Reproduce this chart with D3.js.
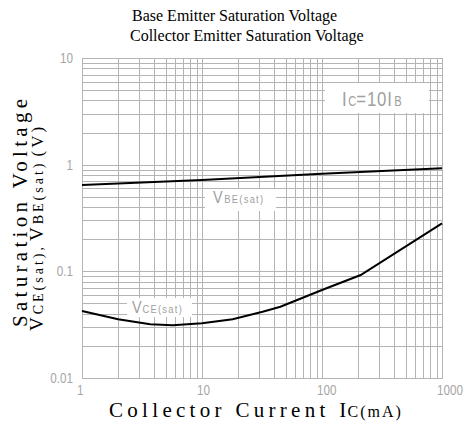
<!DOCTYPE html>
<html>
<head>
<meta charset="utf-8">
<script src="https://cdn.jsdelivr.net/npm/d3@7"></script>
<style>
  body { margin: 0; background: #fff; }
  .grid line { stroke: #b4b4b4; stroke-width: 1; }
  .grid path { display: none; }
  .tick-label { font-family: "Liberation Sans", Arial, sans-serif; fill: #a6a6a6; font-size: 15px; }
  .note { font-family: "Liberation Sans", Arial, sans-serif; fill: #a0a0a0; }
  .title { font-family: "Liberation Serif", "Times New Roman", serif; fill: #000; font-size: 16px; }
  .axis-title { font-family: "Liberation Serif", "Times New Roman", serif; fill: #000; }
</style>
</head>
<body>
<div class="canvas"></div>
<script>
const width = 466;
const height = 439;
const margins = { top: 58, right: 24, bottom: 61, left: 82 };
const graphWidth = width - margins.left - margins.right;
const graphHeight = height - margins.top - margins.bottom;

// data
const collectorCurrent = [1, 2, 3.7, 5.7, 10, 18, 32, 45, 100, 210, 1000];
const vceSat = [0.0425, 0.0355, 0.0319, 0.0312, 0.0326, 0.0355, 0.0418, 0.0466, 0.0668, 0.0923, 0.282];
const vbeCurrent = [1, 10, 100, 1000];
const vbeSat = [0.645, 0.72, 0.82, 0.925];
const xTickLabels = ['1', '10', '100', '1000'];
const yTickLabels = ['10', '1', '0.1', '0.01'];
const xTickValues = [1, 10, 100, 1000];
const yTickValues = [10, 1, 0.1, 0.01];

const svg = d3
  .select('.canvas')
  .append('svg')
  .attr('width', width)
  .attr('height', height);

const graph = svg
  .append('g')
  .attr('transform', `translate(${margins.left}, ${margins.top})`);

// Scales
const x = d3.scaleLog().domain([1, 1000]).range([0, graphWidth]);
const y = d3.scaleLog().domain([0.01, 10]).range([graphHeight, 0]);

// grid (every 1..9 per decade)
graph
  .append('g')
  .attr('class', 'grid')
  .attr('transform', `translate(0, ${graphHeight})`)
  .call(d3.axisBottom(x).tickValues(x.ticks()).tickSize(-graphHeight).tickFormat(''));

graph
  .append('g')
  .attr('class', 'grid')
  .call(d3.axisLeft(y).tickValues(y.ticks()).tickSize(-graphWidth).tickFormat(''));

graph.selectAll('.grid .tick line').attr('shape-rendering', 'crispEdges');

// frame
graph
  .append('rect')
  .attr('width', graphWidth)
  .attr('height', graphHeight)
  .attr('fill', 'none')
  .attr('stroke', '#b4b4b4')
  .attr('shape-rendering', 'crispEdges');

// tick labels (narrow lettering, squeezed horizontally)
graph
  .selectAll('.x-label')
  .data(xTickValues)
  .enter()
  .append('text')
  .attr('class', 'tick-label')
  .attr('transform', d => `translate(${x(d) - 5}, ${graphHeight + 17}) scale(0.78, 1)`)
  .text((d, i) => xTickLabels[i]);

graph
  .selectAll('.y-label')
  .data(yTickValues)
  .enter()
  .append('text')
  .attr('class', 'tick-label')
  .attr('text-anchor', 'end')
  .attr('transform', d => `translate(-9, ${y(d) + 5}) scale(0.78, 1)`)
  .text((d, i) => yTickLabels[i]);

// white label boxes
const notes = graph.append('g');
const note = (bx, by, bw, bh) =>
  notes.append('rect').attr('x', bx).attr('y', by).attr('width', bw).attr('height', bh).attr('fill', '#fff');

note(243, 25, 104, 30);
note(123, 131, 71, 22);
note(45, 240, 65, 19);

const ic = notes
  .append('text')
  .attr('class', 'note')
  .attr('transform', 'translate(260, 48) scale(0.8, 1)');
ic.append('tspan').attr('font-size', 21).text('I');
ic.append('tspan').attr('font-size', 14).attr('dx', 2).text('C');
ic.append('tspan').attr('font-size', 21).attr('letter-spacing', 1).text('=10I');
ic.append('tspan').attr('font-size', 14).attr('dx', 2).text('B');

const vbe = notes
  .append('text')
  .attr('class', 'note')
  .attr('transform', 'translate(131, 145) scale(0.85, 1)');
vbe.append('tspan').attr('font-size', 17).text('V');
vbe.append('tspan').attr('font-size', 11).attr('dx', 2).attr('letter-spacing', 1.5).text('BE(sat)');

const vce = notes
  .append('text')
  .attr('class', 'note')
  .attr('transform', 'translate(50, 255) scale(0.85, 1)');
vce.append('tspan').attr('font-size', 17).text('V');
vce.append('tspan').attr('font-size', 11).attr('dx', 1).attr('letter-spacing', 1.5).text('CE(sat)');

// curves
const line = d3
  .line()
  .x(d => x(d[0]))
  .y(d => y(d[1]));

graph
  .append('path')
  .datum(vbeCurrent.map((c, i) => [c, vbeSat[i]]))
  .attr('fill', 'none')
  .attr('stroke', '#000')
  .attr('stroke-width', 2)
  .attr('d', line);

graph
  .append('path')
  .datum(collectorCurrent.map((c, i) => [c, vceSat[i]]))
  .attr('fill', 'none')
  .attr('stroke', '#000')
  .attr('stroke-width', 2)
  .attr('d', line);

// titles
svg.append('text').attr('class', 'title').attr('x', 132).attr('y', 21).text('Base Emitter Saturation Voltage');
svg.append('text').attr('class', 'title').attr('x', 130).attr('y', 41).text('Collector Emitter Saturation Voltage');

const xTitle = svg
  .append('text')
  .attr('class', 'axis-title')
  .attr('x', 109)
  .attr('y', 417)
  .attr('letter-spacing', 4.3);
xTitle.append('tspan').attr('font-size', 21).text('Collector Current I');
xTitle.append('tspan').attr('font-size', 16).attr('letter-spacing', 2).attr('dx', -3).text('C(mA)');

svg
  .append('text')
  .attr('class', 'axis-title')
  .attr('transform', 'translate(27, 327) rotate(-90)')
  .attr('font-size', 21)
  .attr('letter-spacing', 4.3)
  .text('Saturation Voltage');

const yTitle2 = svg
  .append('text')
  .attr('class', 'axis-title')
  .attr('transform', 'translate(43, 331) rotate(-90)')
  .attr('letter-spacing', 3);
yTitle2.append('tspan').attr('font-size', 19).text('V');
yTitle2.append('tspan').attr('font-size', 14).text('CE(sat),');
yTitle2.append('tspan').attr('font-size', 19).attr('dx', 3).text('V');
yTitle2.append('tspan').attr('font-size', 14).text('BE(sat)');
yTitle2.append('tspan').attr('font-size', 17).attr('dx', 4).text('(V)');
</script>
</body>
</html>
